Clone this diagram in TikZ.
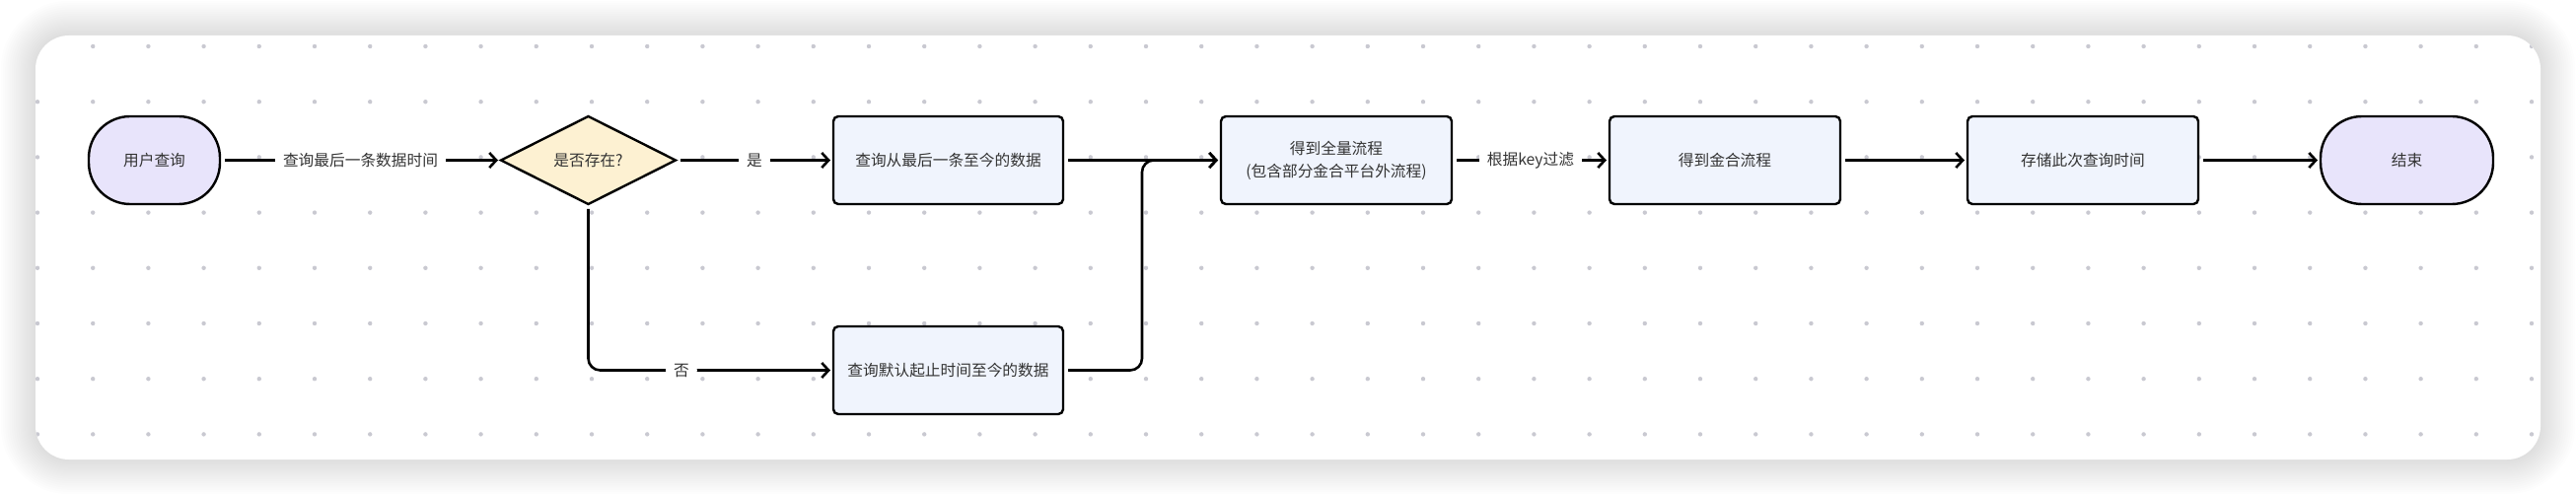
\documentclass[tikz,border=0pt]{standalone}
\usepackage{fontspec}
\setmainfont{Noto Sans CJK SC}
\usetikzlibrary{shapes.geometric}
\usetikzlibrary{arrows.meta}
\usetikzlibrary{calc}
\usetikzlibrary{positioning}

\definecolor{termfill}{HTML}{E8E4FB}
\definecolor{decfill}{HTML}{FDF1D2}
\definecolor{procfill}{HTML}{F0F4FD}
\definecolor{txt}{HTML}{333333}
\definecolor{griddot}{HTML}{C9C9D1}

\tikzset{
  base/.style = {draw = black, line width = 2.4pt, text = txt, align = center, inner sep = 0pt, outer sep = 0pt,
                 font = \fontsize{15.7pt}{23pt}\selectfont},
  term/.style = {base, fill = termfill, rounded corners = 42pt, minimum width = 133pt, minimum height = 89pt},
  decision/.style = {base, diamond, fill = decfill, minimum width = 177pt, minimum height = 89pt},
  proc/.style = {base, fill = procfill, rounded corners = 5pt, minimum width = 233pt, minimum height = 89pt},
  flow/.style = {line width = 2.6pt, -{Straight Barb[length=7pt, width=15pt]}, shorten <= 5pt, shorten >= 3pt},
  edgelabel/.style = {fill = white, text = txt, inner xsep = 8pt, inner ysep = 2pt,
                      font = \fontsize{15.7pt}{23pt}\selectfont},
}

\begin{document}
\begin{tikzpicture}[x = 1pt, y = -1pt]

    \useasboundingbox (0,0) rectangle (2612,502);

    % card with soft shadow
    \foreach \k in {1,...,16} {
        \pgfmathsetmacro\rr{34 + 2.2*\k}
        \fill[black, opacity = 0.007, rounded corners = \rr pt]
            (36-2.2*\k, 36-2.2*\k) rectangle (2576+2.2*\k, 466+2.2*\k);
    }
    \fill[white, rounded corners = 34pt] (36,36) rectangle (2576,466);

    % dot grid
    \begin{scope}
        \clip[rounded corners = 34pt] (36,36) rectangle (2576,466);
        \foreach \i in {0,...,45}
            \foreach \j in {0,...,7}
                \fill[griddot] (38+56.2*\i, 47+56.2*\j) circle (2.2pt);
    \end{scope}

    % nodes
    \node (start) at (156.5,162.5) [term] {用户查询};
    \node (exists) [decision, right = 285pt of start] {是否存在?};
    \node (recent) [proc, right = 160pt of exists] {查询从最后一条至今的数据};
    \node (default) [proc, below = 124pt of recent] {查询默认起止时间至今的数据};
    \node (full) [proc, right = 160pt of recent, minimum width = 234pt] {得到全量流程\\(包含部分金合平台外流程)};
    \node (jinhe) [proc, right = 160pt of full, minimum width = 234pt] {得到金合流程};
    \node (store) [proc, right = 129pt of jinhe, minimum width = 234pt] {存储此次查询时间};
    \node (end) [term, right = 124pt of store, minimum width = 175pt] {结束};

    \coordinate (merge) at ($(recent.east)!0.5!(full.west)$);

    % connectors
    \draw[flow] (start) -- (exists) node [edgelabel, midway] {查询最后一条数据时间};
    \draw[flow] (exists) -- (recent) node [edgelabel, midway] {是};
    \draw[flow, rounded corners = 12pt] (exists) |- (default) node [edgelabel, pos = 0.69] {否};
    \draw[flow] (recent) -- (full);
    \draw[flow, rounded corners = 12pt] (default.east) -| (merge) -- (full.west);
    \draw[flow] (full) -- (jinhe) node [edgelabel, midway] {根据key过滤};
    \draw[flow] (jinhe) -- (store);
    \draw[flow] (store) -- (end);

\end{tikzpicture}
\end{document}
